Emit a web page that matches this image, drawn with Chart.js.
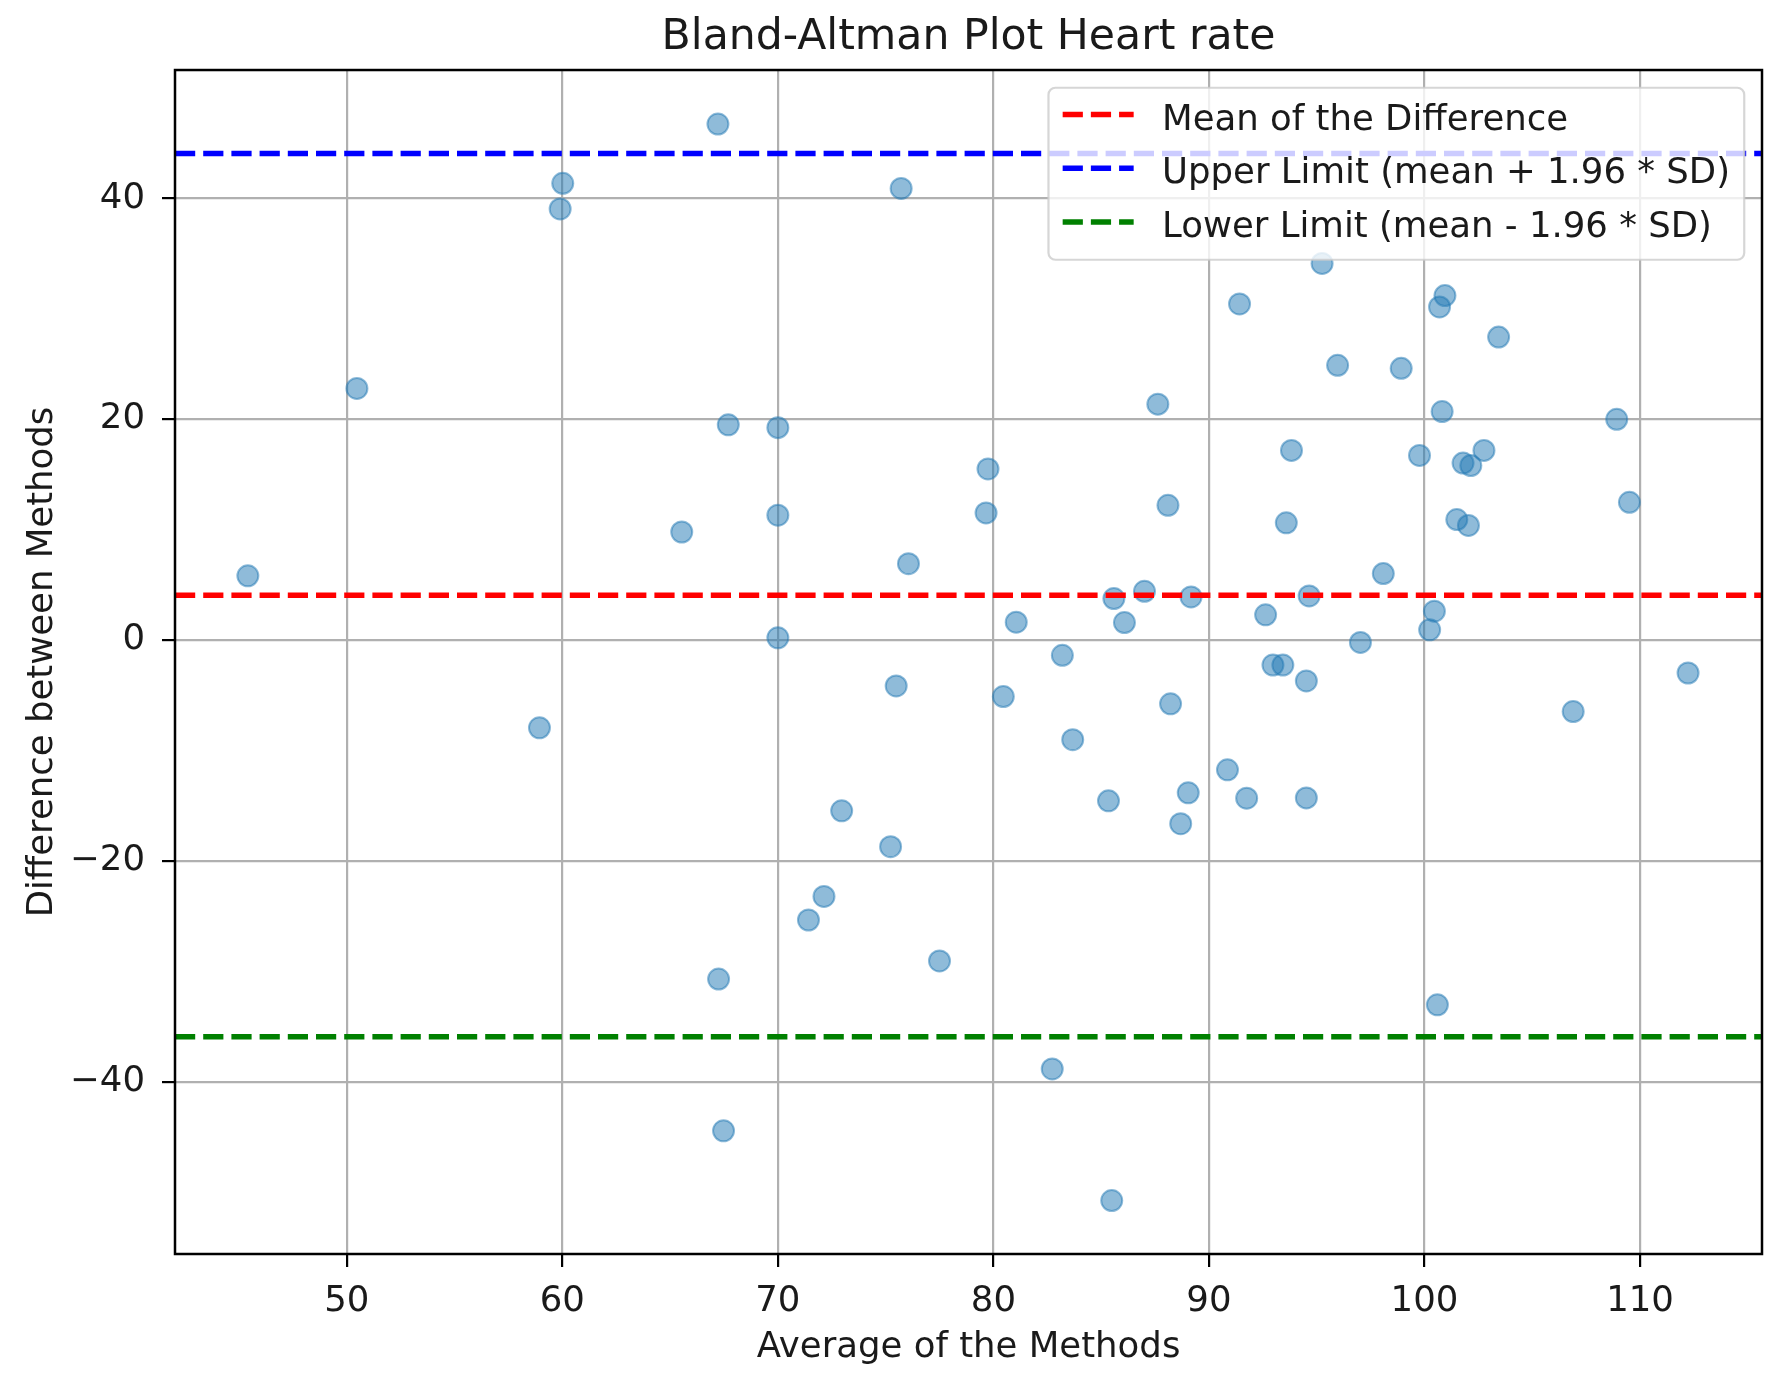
<!DOCTYPE html>
<html>
<head>
<meta charset="utf-8">
<title>Bland-Altman Plot Heart rate</title>
<script src="https://cdn.jsdelivr.net/npm/chart.js@4.4.1/dist/chart.umd.min.js"></script>
<style>
  html, body { margin: 0; padding: 0; background: #fff; }
  #chart { display: block; }
</style>
</head>
<body>
<canvas id="chart" width="1780" height="1375"></canvas>
<script>
// ---------------- Data ----------------
const avgValues = [
  45.41, 50.47, 58.94, 59.90, 60.02, 65.54, 67.22, 67.70, 67.25, 67.48,
  70.00, 70.00, 70.00, 71.42, 72.14, 72.96, 75.23, 75.49, 75.72, 76.06,
  77.50, 79.75, 79.66, 80.46, 81.06, 82.73, 83.20, 83.68, 85.49, 85.34,
  85.59, 86.08, 87.01, 87.63, 88.10, 88.22, 88.69, 89.04, 89.17, 90.86,
  91.42, 91.75, 92.63, 92.97, 93.43, 93.59, 93.83, 94.52, 94.52, 94.65,
  95.25, 95.97, 97.03, 98.09, 98.92, 99.77, 100.24, 100.46, 100.60, 100.70,
  100.95, 100.82, 101.50, 101.79, 102.04, 102.15, 102.76, 103.44, 106.90, 108.92,
  109.51, 112.23
];
const diffValues = [
  5.82, 22.79, -7.94, 39.05, 41.37, 9.79, 46.74, 19.5, -30.70, -44.44,
  19.24, 11.31, 0.21, -25.35, -23.22, -15.46, -18.71, -4.15, 40.91, 6.92,
  -29.06, 15.5, 11.52, -5.11, 1.62, -38.84, -1.38, -9.02, -50.76, -14.56,
  3.76, 1.59, 4.42, 21.37, 12.21, -5.77, -16.63, -13.83, 3.91, -11.75,
  30.44, -14.32, 2.29, -2.26, -2.26, 10.62, 17.18, -3.70, -14.29, 4.0,
  34.11, 24.89, -0.21, 6.02, 24.61, 16.72, 0.93, 2.62, -33.03, 30.17,
  31.20, 20.70, 10.92, 16.03, 10.38, 15.81, 17.18, 27.44, -6.47, 20.0,
  12.48, -2.98
];
const meanDiff = 4.07;
const upperLimit = 44.07;
const lowerLimit = -35.93;

const xTicks = [50, 60, 70, 80, 90, 100, 110];
const yTicks = [-40, -20, 0, 20, 40];
const X_MIN = 42.03, X_MAX = 115.66;
const Y_MIN = -55.6, Y_MAX = 51.63;

// ---------------- Style ----------------
const FONT = '"DejaVu Sans", sans-serif';
const TEXT = '#1a1a1a';
const FS = 35.5;
const DASH = [20.2, 8];

Chart.defaults.font.family = FONT;
Chart.defaults.color = TEXT;

const fmt = (v) => (v < 0 ? '\u2212' + Math.abs(v) : String(v));

const hLine = (label, value, color) => ({
  label,
  data: [{ x: X_MIN, y: value }, { x: X_MAX, y: value }],
  showLine: true,
  borderColor: color,
  backgroundColor: color,
  borderWidth: 5.5,
  borderDash: DASH,
  pointRadius: 0,
  order: 1,
});

// full box around the plot area (matplotlib spines)
const frame = {
  id: 'frame',
  afterDatasetsDraw(chart) {
    const { ctx, chartArea: { left, top, right, bottom } } = chart;
    ctx.save();
    ctx.strokeStyle = '#000';
    ctx.lineWidth = 2.5;
    ctx.strokeRect(left, top, right - left, bottom - top);
    ctx.restore();
  },
};

// legend drawn inside the plot, upper right
const insideLegend = {
  id: 'insideLegend',
  afterDatasetsDraw(chart) {
    const { ctx, chartArea } = chart;
    const items = chart.data.datasets.filter((ds) => ds.label);
    ctx.save();
    ctx.font = `${FS}px ${FONT}`;
    const textW = Math.max(...items.map((ds) => ctx.measureText(ds.label).width));
    const pad = 0.4 * FS, handleLen = 2 * FS, handleGap = 0.8 * FS, edge = 0.5 * FS;
    const rowStep = 53.7;
    const w = pad + handleLen + handleGap + textW + pad;
    const h = 2 * pad + rowStep * (items.length - 1) + 36.2;
    const x0 = chartArea.right - edge - w;
    const y0 = chartArea.top + edge;
    const r = 7;

    ctx.beginPath();
    ctx.moveTo(x0 + r, y0);
    ctx.arcTo(x0 + w, y0, x0 + w, y0 + h, r);
    ctx.arcTo(x0 + w, y0 + h, x0, y0 + h, r);
    ctx.arcTo(x0, y0 + h, x0, y0, r);
    ctx.arcTo(x0, y0, x0 + w, y0, r);
    ctx.closePath();
    ctx.fillStyle = 'rgba(255,255,255,0.8)';
    ctx.fill();
    ctx.strokeStyle = 'rgba(204,204,204,0.8)';
    ctx.lineWidth = 2.2;
    ctx.stroke();

    items.forEach((ds, i) => {
      const y = y0 + 26.8 + i * rowStep;
      ctx.setLineDash(ds.borderDash);
      ctx.strokeStyle = ds.borderColor;
      ctx.lineWidth = ds.borderWidth;
      ctx.beginPath();
      ctx.moveTo(x0 + pad, y);
      ctx.lineTo(x0 + pad + handleLen, y);
      ctx.stroke();
      ctx.setLineDash([]);
      ctx.fillStyle = TEXT;
      ctx.textBaseline = 'alphabetic';
      ctx.textAlign = 'left';
      ctx.fillText(ds.label, x0 + pad + handleLen + handleGap, y + 15);
    });
    ctx.restore();
  },
};

const gridOpts = {
  color: '#b0b0b0',
  lineWidth: 2.2,
  tickColor: '#000',
  tickLength: 13,
  tickWidth: 2.2,
};

new Chart(document.getElementById('chart'), {
  type: 'scatter',
  data: {
    datasets: [
      hLine('Mean of the Difference', meanDiff, '#ff0000'),
      hLine('Upper Limit (mean + 1.96 * SD)', upperLimit, '#0000ff'),
      hLine('Lower Limit (mean - 1.96 * SD)', lowerLimit, '#008000'),
      {
        data: avgValues.map((x, i) => ({ x, y: diffValues[i] })),
        backgroundColor: 'rgba(31,119,180,0.5)',
        borderColor: 'rgba(31,119,180,0.5)',
        borderWidth: 2,
        pointRadius: 10.5,
        order: 2,
      },
    ],
  },
  options: {
    responsive: false,
    animation: false,
    devicePixelRatio: 1,
    layout: { padding: { left: 17.4, right: 18, top: 0, bottom: 0 } },
    plugins: {
      title: {
        display: true,
        fullSize: false, // center over the plot area, like matplotlib
        text: 'Bland-Altman Plot Heart rate',
        font: { size: 42.6, weight: 'normal' },
        padding: { top: 11.9, bottom: 7 },
        color: TEXT,
      },
      legend: { display: false },
      tooltip: { enabled: false },
    },
    scales: {
      x: {
        type: 'linear',
        min: X_MIN,
        max: X_MAX,
        afterBuildTicks: (s) => { s.ticks = xTicks.map((v) => ({ value: v })); },
        afterFit: (s) => { s.height = 121; },
        grid: gridOpts,
        border: { display: false },
        ticks: { font: { size: FS }, padding: 13, color: TEXT, maxRotation: 0, autoSkip: false, callback: fmt },
        title: { display: true, text: 'Average of the Methods', font: { size: FS }, padding: { top: 4, bottom: 6 }, color: TEXT },
      },
      y: {
        type: 'linear',
        min: Y_MIN,
        max: Y_MAX,
        afterBuildTicks: (s) => { s.ticks = yTicks.map((v) => ({ value: v })); },
        afterFit: (s) => { s.width = 175 - 17.4; },
        grid: gridOpts,
        border: { display: false },
        ticks: { font: { size: FS }, padding: 17, color: TEXT, autoSkip: false, callback: fmt },
        title: { display: true, text: 'Difference between Methods', font: { size: FS }, padding: { top: 4, bottom: 4 }, color: TEXT },
      },
    },
  },
  plugins: [frame, insideLegend],
});
</script>
</body>
</html>
